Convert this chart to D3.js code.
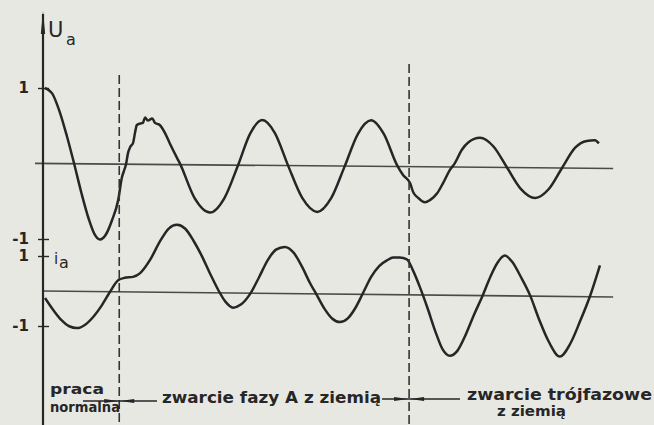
<!DOCTYPE html>
<html>
<head>
<meta charset="utf-8">
<script src="https://cdn.jsdelivr.net/npm/d3@7"></script>
<style>
  body { margin: 0; background: #e8e8e3; }
  svg { display: block; }
</style>
</head>
<body>
<div id="chart"></div>
<script>
// oscillogram: time in ms, values in per-unit
const uaTime = [0, 1.3, 2.7, 4.0, 5.3, 6.6, 8.0, 9.0, 10.0, 11.1, 12.2, 13.3, 14.0, 14.4, 14.7, 15.1, 15.5, 16.0, 16.4, 16.7,
  17.3, 17.8, 18.2, 18.7, 19.5, 20.0, 20.9, 21.8, 22.7, 24.0, 24.5, 27.2, 30.0, 32.6, 35.1, 37.3, 39.5, 41.8, 44.2, 46.8,
  49.5, 52.0, 54.5, 56.9, 59.3, 61.6, 64.0, 65.1, 66.4, 66.9, 67.8, 69.1, 70.0, 71.3, 72.4, 73.6, 74.5, 75.8, 77.0, 79.1,
  81.5, 84.0, 86.5, 89.1, 91.6, 94.0, 96.4, 98.5, 100.0, 100.7];
const uaValue = [1.00, 0.93, 0.68, 0.36, 0.00, -0.38, -0.74, -0.93, -1.00, -0.93, -0.74, -0.48, -0.17, -0.08, -0.01, 0.15, 0.23, 0.28, 0.43, 0.52,
  0.54, 0.55, 0.62, 0.58, 0.61, 0.55, 0.52, 0.42, 0.28, 0.09, 0.02, -0.44, -0.63, -0.44, 0.00, 0.42, 0.60, 0.43, 0.00, -0.43,
  -0.61, -0.43, 0.00, 0.43, 0.61, 0.43, 0.02, -0.11, -0.22, -0.33, -0.41, -0.47, -0.44, -0.35, -0.21, -0.04, 0.05, 0.23, 0.33, 0.39,
  0.28, 0.00, -0.28, -0.40, -0.28, 0.00, 0.27, 0.36, 0.37, 0.33];

const iaTime = [0, 1.5, 3.0, 4.4, 5.8, 7.3, 8.8, 10.3, 11.8, 13.3, 14.5, 16.0, 17.3, 19.1, 20.9, 22.5, 24.0, 25.5, 27.0, 28.5,
  30.0, 31.5, 32.8, 34.2, 35.6, 37.3, 38.9, 40.5, 42.0, 43.6, 45.2, 46.8, 48.2, 49.3, 50.8, 52.2, 53.6, 55.0, 56.4, 57.8,
  59.3, 60.8, 62.2, 63.3, 64.5, 65.8, 66.9, 68.2, 69.5, 71.0, 72.3, 73.6, 75.0, 76.5, 78.0, 79.6, 81.0, 82.3, 83.6, 84.9,
  86.5, 88.2, 89.8, 91.6, 93.6, 95.5, 97.3, 99.1, 100.9];
const iaValue = [-0.20, -0.54, -0.83, -1.00, -1.05, -0.95, -0.72, -0.40, -0.01, 0.33, 0.40, 0.43, 0.54, 0.92, 1.45, 1.82, 1.93, 1.82, 1.48, 1.05,
  0.55, 0.08, -0.25, -0.42, -0.33, -0.02, 0.45, 0.95, 1.25, 1.33, 1.17, 0.75, 0.30, 0.00, -0.42, -0.70, -0.80, -0.70, -0.40, 0.03,
  0.50, 0.82, 0.98, 1.06, 1.06, 1.01, 0.70, 0.21, -0.35, -1.05, -1.55, -1.73, -1.58, -1.12, -0.55, 0.01, 0.55, 0.95, 1.15, 0.98,
  0.55, 0.02, -0.65, -1.30, -1.72, -1.35, -0.70, 0.02, 0.90];

const faultTimes = [13.5, 66.2];   // start of phase-A fault, start of three-phase fault
const tickValues = [-1, 1];
const baselineEnd = 103.3;

const W = 654, H = 425;
const ink = "#262626";

const svg = d3.select("#chart").append("svg")
  .attr("width", W).attr("height", H);

svg.append("rect").attr("width", W).attr("height", H).attr("fill", "#e8e8e3");

const x = d3.scaleLinear().domain([0, 100]).range([45, 595]);
const yU = d3.scaleLinear().domain([-1, 1]).range([239, 88]);
const yI = d3.scaleLinear().domain([-1, 1]).range([326, 256]);

const line = (y) => d3.line()
  .x(d => x(d[0]))
  .y(d => y(d[1]))
  .curve(d3.curveMonotoneX);

// each trace sits on a slightly tilted zero line (scan skew)
function trace(times, values, y, tilt) {
  const k = Math.tan(tilt * Math.PI / 180);
  const g = svg.append("g")
    .attr("transform", `translate(0,${-45 * k}) skewY(${tilt})`);
  g.append("line")
    .attr("x1", y === yU ? 35 : 43).attr("x2", x(baselineEnd))
    .attr("y1", y(0)).attr("y2", y(0))
    .attr("stroke", "#4a4a4a").attr("stroke-width", 1.6);
  g.append("path")
    .datum(times.map((t, i) => [t, values[i]]))
    .attr("d", line(y))
    .attr("fill", "none")
    .attr("stroke", ink)
    .attr("stroke-width", 2.5)
    .attr("stroke-linejoin", "round");
}
trace(uaTime, uaValue, yU, 0.5);
trace(iaTime, iaValue, yI, 0.6);

// vertical axis with arrow
svg.append("line")
  .attr("x1", 43).attr("x2", 43).attr("y1", 14).attr("y2", H)
  .attr("stroke", ink).attr("stroke-width", 2.2);
svg.append("path")
  .attr("d", "M43,11 L40.8,34 L45.2,34 Z")
  .attr("fill", ink);

// ticks -1 / 1 for both traces
[yU, yI].forEach(y => {
  const ax = svg.append("g")
    .attr("transform", "translate(43,0)")
    .call(d3.axisLeft(y).tickValues(tickValues).tickSize(5).tickPadding(9)
      .tickFormat(d => String(d)));
  ax.select(".domain").remove();
  ax.selectAll(".tick line").attr("x1", 6).attr("stroke", ink).attr("stroke-width", 1.4);
  ax.selectAll(".tick text")
    .attr("fill", ink)
    .style("font", "bold 15px 'DejaVu Sans'");
});

// fault moments
svg.selectAll(".fault")
  .data(faultTimes)
  .join("line")
  .attr("class", "fault")
  .attr("x1", d => x(d)).attr("x2", d => x(d))
  .attr("y1", (d, i) => i === 0 ? 75 : 64).attr("y2", H)
  .attr("stroke", "#333").attr("stroke-width", 1.6)
  .attr("stroke-dasharray", "9,4");

// axis names
const label = (txt, px, py, size) => svg.append("text")
  .attr("x", px).attr("y", py).text(txt)
  .attr("fill", ink)
  .style("font", `${size}px 'DejaVu Sans'`);
label("U", 48, 37, 21);
label("a", 66, 45, 16);
label("i", 54, 264, 15);
label("a", 59, 268, 16);

// phase annotations along the bottom
const phaseLabels = [
  { text: "praca", x0: 50, x1: 104, y: 394, size: 14 },
  { text: "normalna", x0: 50, x1: 120, y: 412, size: 14 },
  { text: "zwarcie fazy A z ziemią", x0: 162, x1: 381, y: 403, size: 15 },
  { text: "zwarcie trójfazowe", x0: 467, x1: 652, y: 400, size: 15 },
  { text: "z ziemią", x0: 497, x1: 566, y: 416, size: 14 }
];
svg.selectAll(".phase")
  .data(phaseLabels)
  .join("text")
  .attr("class", "phase")
  .attr("x", d => d.x0).attr("y", d => d.y)
  .attr("textLength", d => d.x1 - d.x0)
  .attr("lengthAdjust", "spacingAndGlyphs")
  .attr("fill", ink)
  .style("font", d => `bold ${d.size}px 'DejaVu Sans'`)
  .text(d => d.text);

// arrows pointing at each fault moment
const arrowRuns = [
  { from: 83, to: 157, y: 401, at: x(faultTimes[0]) },
  { from: 382, to: 460, y: 399, at: x(faultTimes[1]) }
];
arrowRuns.forEach(a => {
  svg.append("line")
    .attr("x1", a.from).attr("x2", a.to).attr("y1", a.y).attr("y2", a.y)
    .attr("stroke", ink).attr("stroke-width", 1.4);
  svg.append("path")
    .attr("d", `M${a.at - 1},${a.y} L${a.at - 15},${a.y - 2} L${a.at - 15},${a.y + 2} Z`
      + ` M${a.at + 1},${a.y} L${a.at + 15},${a.y - 2} L${a.at + 15},${a.y + 2} Z`)
    .attr("fill", ink);
});
</script>
</body>
</html>
